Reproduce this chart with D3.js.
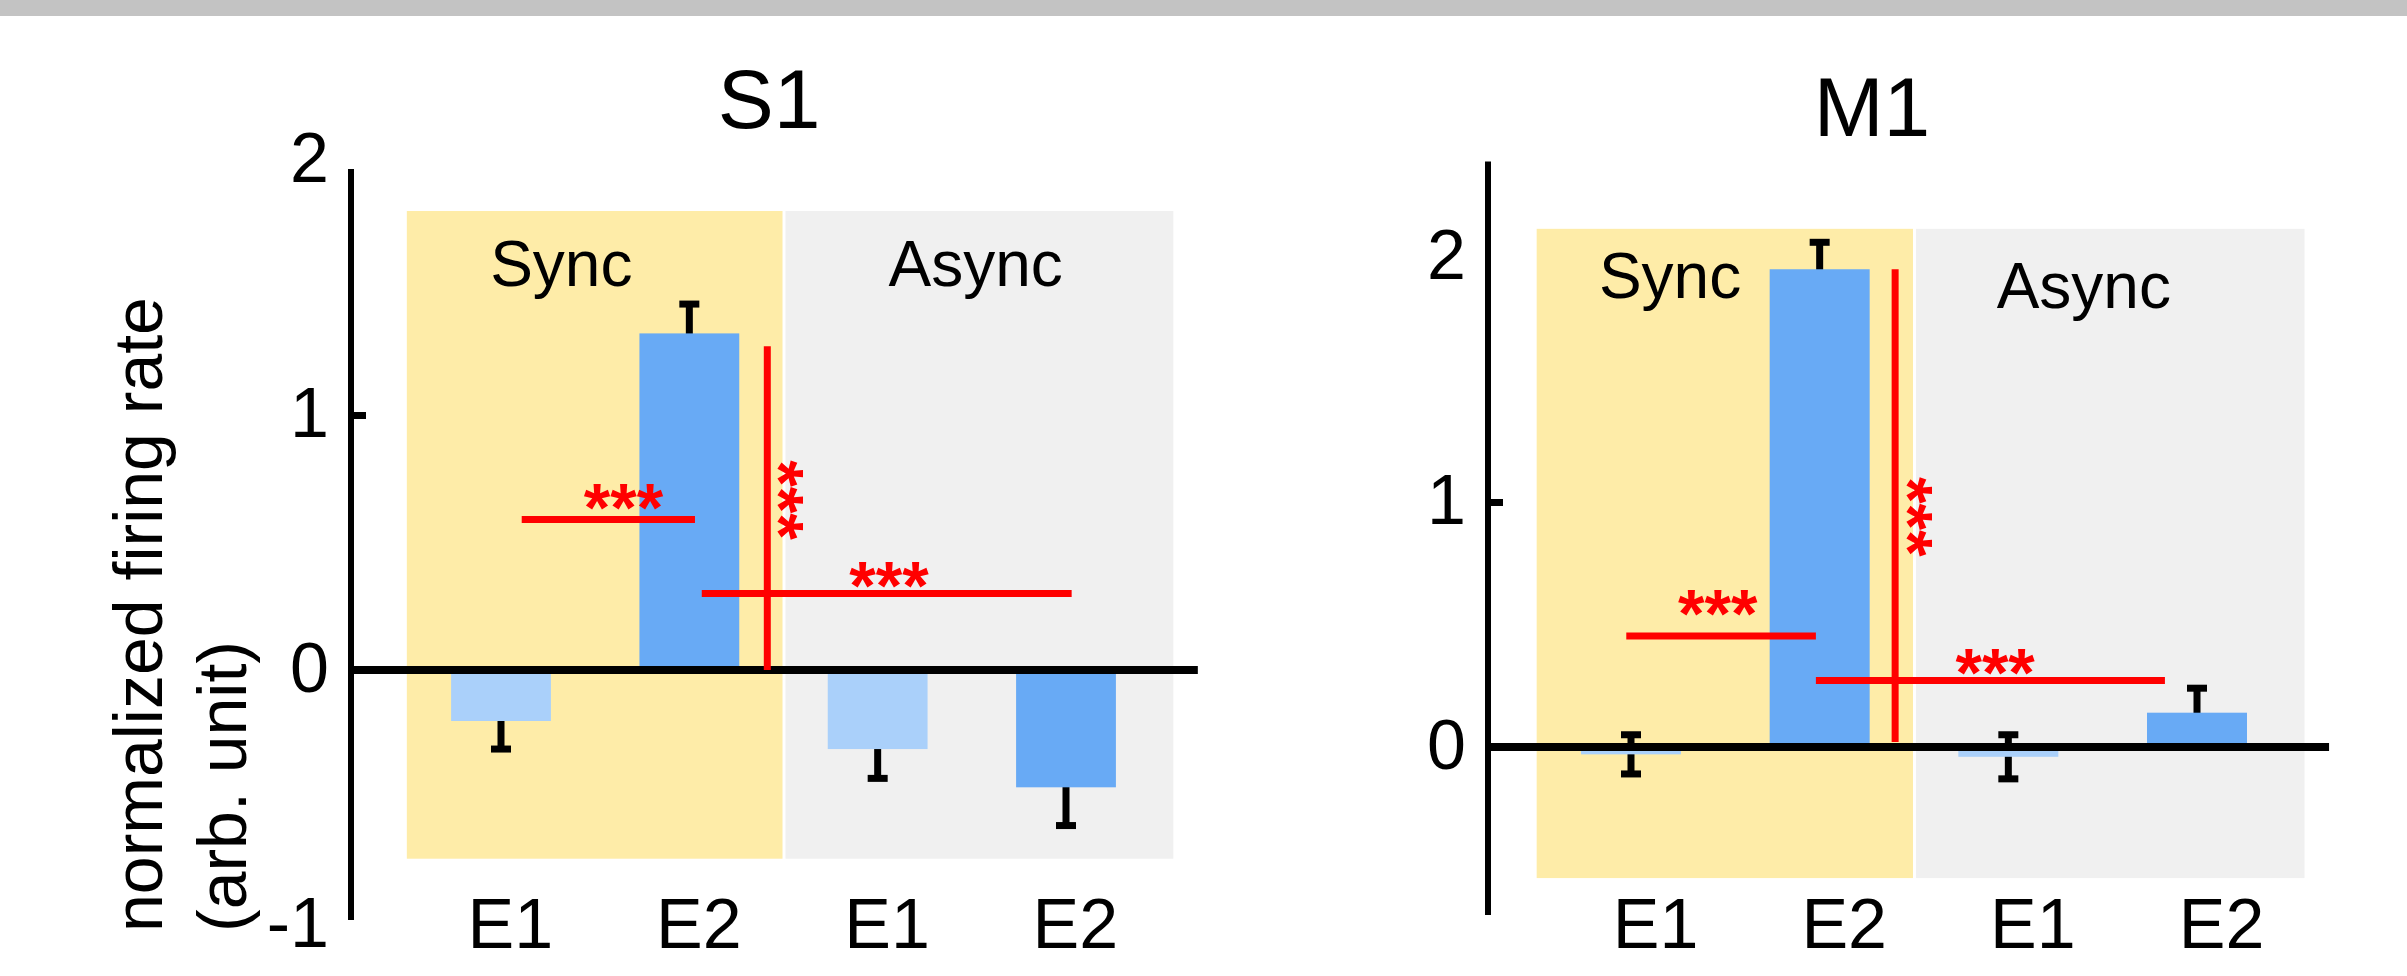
<!DOCTYPE html>
<html>
<head>
<meta charset="utf-8">
<script src="https://cdn.jsdelivr.net/npm/d3@7"></script>
<style>
    body { margin: 0; background: #fff; }
    svg { display: block; font-family: "Liberation Sans", Arial, sans-serif; }
</style>
</head>
<body>
<div id="chart"></div>
<script>
    // categories (x positions are category indices 0..3)
    const categories = ["Sync E1", "Sync E2", "Async E1", "Async E2"];
    const electrodeLabels = ["E1", "E2", "E1", "E2"];
    const conditions = ["Sync", "Async"];
    const conditionSpans = [[-0.5, 1.5], [1.5, 3.57]];

    // S1 values
    const s1Mean = [-0.20, 1.32, -0.31, -0.46];
    const s1Sem = [0.11, 0.115, 0.115, 0.15];
    const s1Ticks = [-1, 0, 1, 2];
    const s1AxisExtent = [-0.98, 1.965];
    const s1Background = [-0.74, 1.80];
    const s1Brackets = [
        { x0: 0.11, x1: 1.03, y: 0.59, starX: 0.65, starY: 0.68 },
        { x0: 1.066, x1: 3.03, y: 0.30, starX: 2.06, starY: 0.373 }
    ];
    const s1Vertical = { x: 1.414, y0: 0, y1: 1.27, starX: 1.56, starY: 0.667 };

    // M1 values
    const m1Mean = [-0.03, 1.95, -0.04, 0.14];
    const m1Sem = [0.08, 0.11, 0.09, 0.10];
    const m1Ticks = [0, 1, 2];
    const m1AxisExtent = [-0.686, 2.39];
    const m1Background = [-0.535, 2.115];
    const m1Brackets = [
        { x0: -0.025, x1: 0.98, y: 0.453, starX: 0.46, starY: 0.586 },
        { x0: 0.98, x1: 2.83, y: 0.271, starX: 1.93, starY: 0.347 }
    ];
    const m1Vertical = { x: 1.40, y0: 0.02, y1: 1.95, starX: 1.55, starY: 0.94 };

    const tickMarks = [1];

    const colors = {
        Sync: "#feeca8", Async: "#f0f0f0",
        E1: "#aad0fa", E2: "#68aaf5",
        sig: "#ff0000"
    };

    const W = 2407, H = 976;
    const svg = d3.select("#chart").append("svg")
        .attr("width", W)
        .attr("height", H);

    // grey strip at the top
    svg.append("rect")
        .attr("x", 0).attr("y", 0)
        .attr("width", W).attr("height", 16)
        .attr("fill", "#c3c3c3");

    let panels = [
        {
            name: "S1", mean: s1Mean, sem: s1Sem, ticks: s1Ticks, axisExtent: s1AxisExtent,
            background: s1Background, brackets: s1Brackets, vertical: s1Vertical,
            xRange: [501, 1066], yDomain: [-1, 2], yRange: [925, 160], axisX: 351,
            titleX: 769, titleY: 128, labelShift: 0.05, condPos: [0.32, 2.52], condY: [286, 286]
        },
        {
            name: "M1", mean: m1Mean, sem: m1Sem, ticks: m1Ticks, axisExtent: m1AxisExtent,
            background: m1Background, brackets: m1Brackets, vertical: m1Vertical,
            xRange: [1631, 2197], yDomain: [0, 2], yRange: [747, 257], axisX: 1488,
            titleX: 1872, titleY: 136, labelShift: 0.13, condPos: [0.207, 2.4], condY: [298, 308]
        }
    ];

    function drawPanel(p) {
        let g = svg.append("g");
        let x = d3.scaleLinear().domain([0, 3]).range(p.xRange);
        let y = d3.scaleLinear().domain(p.yDomain).range(p.yRange);
        let half = 0.265;
        let data = categories.map((c, i) => ({ cat: c, i: i, mean: p.mean[i], sem: p.sem[i], el: electrodeLabels[i] }));

        // condition backgrounds
        g.selectAll(".bg")
            .data(conditions)
            .join("rect")
            .attr("class", "bg")
            .attr("x", (d, i) => x(conditionSpans[i][0]) + (i == 0 ? 0 : 2))
            .attr("width", (d, i) => x(conditionSpans[i][1]) - x(conditionSpans[i][0]) - (i == 0 ? 1 : 2))
            .attr("y", y(p.background[1]))
            .attr("height", y(p.background[0]) - y(p.background[1]))
            .attr("fill", d => colors[d]);

        // error bars (drawn under the bars)
        let err = g.selectAll(".err")
            .data(data)
            .join("g")
            .attr("class", "err");
        err.append("line")
            .attr("x1", d => x(d.i)).attr("x2", d => x(d.i))
            .attr("y1", d => y(d.mean - d.sem)).attr("y2", d => y(d.mean + d.sem))
            .attr("stroke", "#000").attr("stroke-width", 7);
        [-1, 1].forEach(function (s) {
            err.append("line")
                .attr("x1", d => x(d.i) - 10).attr("x2", d => x(d.i) + 10)
                .attr("y1", d => y(d.mean + s * d.sem)).attr("y2", d => y(d.mean + s * d.sem))
                .attr("stroke", "#000").attr("stroke-width", 7);
        });

        // bars
        g.selectAll(".bar")
            .data(data)
            .join("rect")
            .attr("class", "bar")
            .attr("x", d => x(d.i - half))
            .attr("width", d => x(d.i + half) - x(d.i - half))
            .attr("y", d => Math.min(y(d.mean), y(0)))
            .attr("height", d => Math.abs(y(d.mean) - y(0)))
            .attr("fill", d => colors[d.el]);

        // zero line
        g.append("line")
            .attr("x1", p.axisX + 3).attr("x2", x(3.7))
            .attr("y1", y(0)).attr("y2", y(0))
            .attr("stroke", "#000").attr("stroke-width", 8);

        // significance brackets
        g.selectAll(".sig")
            .data(p.brackets)
            .join("line")
            .attr("class", "sig")
            .attr("x1", d => x(d.x0)).attr("x2", d => x(d.x1))
            .attr("y1", d => y(d.y)).attr("y2", d => y(d.y))
            .attr("stroke", colors.sig).attr("stroke-width", 7);

        g.selectAll(".sigText")
            .data(p.brackets)
            .join("text")
            .attr("class", "sigText")
            .attr("x", d => x(d.starX))
            .attr("y", d => y(d.starY))
            .attr("dy", "0.5em")
            .attr("text-anchor", "middle")
            .style("font-size", "68px")
            .style("font-weight", "bold")
            .attr("fill", colors.sig)
            .text("***");

        let v = p.vertical;
        g.append("line")
            .attr("x1", x(v.x)).attr("x2", x(v.x))
            .attr("y1", y(v.y0)).attr("y2", y(v.y1))
            .attr("stroke", colors.sig).attr("stroke-width", 7);
        g.append("text")
            .attr("transform", `translate(${x(v.starX)}, ${y(v.starY)}) rotate(90)`)
            .attr("dy", "0.57em")
            .attr("text-anchor", "middle")
            .style("font-size", "68px")
            .style("font-weight", "bold")
            .attr("fill", colors.sig)
            .text("***");

        // y axis
        g.append("line")
            .attr("x1", p.axisX).attr("x2", p.axisX)
            .attr("y1", y(p.axisExtent[0])).attr("y2", y(p.axisExtent[1]))
            .attr("stroke", "#000").attr("stroke-width", 6);

        let yAxis = g.append("g")
            .attr("transform", `translate(${p.axisX}, 0)`)
            .call(d3.axisLeft(y).tickValues(p.ticks).tickSize(0).tickPadding(22).tickFormat(d => String(d)));
        yAxis.select(".domain").remove();
        yAxis.selectAll("text")
            .attr("dy", "0.30em")
            .style("font-size", "70px")
            .style("font-family", "'Liberation Sans', Arial, sans-serif")
            .attr("fill", "#000");

        let tickAxis = g.append("g")
            .attr("transform", `translate(${p.axisX}, 0)`)
            .call(d3.axisRight(y).tickValues(tickMarks).tickSize(15).tickFormat(""));
        tickAxis.select(".domain").remove();
        tickAxis.selectAll("line").attr("stroke", "#000").attr("stroke-width", 7);

        // x labels
        g.selectAll(".xlab")
            .data(data)
            .join("text")
            .attr("class", "xlab")
            .attr("x", d => x(d.i + p.labelShift))
            .attr("y", 948)
            .attr("text-anchor", "middle")
            .style("font-size", "70px")
            .text(d => d.el);

        // condition labels
        g.selectAll(".cond")
            .data(conditions)
            .join("text")
            .attr("class", "cond")
            .attr("x", (d, i) => x(p.condPos[i]))
            .attr("y", (d, i) => p.condY[i])
            .attr("text-anchor", "middle")
            .style("font-size", "64px")
            .text(d => d);

        // title
        g.append("text")
            .attr("x", p.titleX)
            .attr("y", p.titleY)
            .attr("text-anchor", "middle")
            .style("font-size", "84px")
            .text(p.name);
    }

    panels.forEach(drawPanel);

    // y axis label (S1 only)
    let ylab = svg.append("text")
        .attr("transform", "translate(162, 932) rotate(-90)")
        .attr("text-anchor", "start")
        .style("font-size", "68px");
    ylab.append("tspan").attr("x", 0).attr("y", 0).text("normalized firing rate");
    ylab.append("tspan").attr("x", 0).attr("y", 84).text("(arb. unit)");
</script>
</body>
</html>
